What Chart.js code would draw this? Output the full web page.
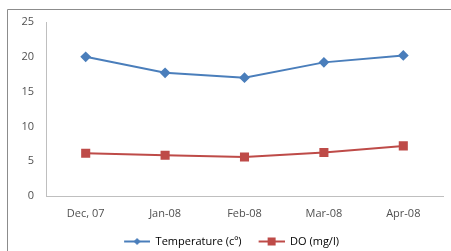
<!DOCTYPE html>
<html>
<head>
<meta charset="utf-8">
<script src="https://cdn.jsdelivr.net/npm/chart.js@4/dist/chart.umd.min.js"></script>
<style>
	html, body { margin: 0; padding: 0; background: #fff; }
	#wrap { width: 451px; height: 251px; }
</style>
</head>
<body>
<div id="wrap"><canvas id="myChart" width="451" height="251"></canvas></div>
<script>
// datos
const meses = ['Dec, 07', 'Jan-08', 'Feb-08', 'Mar-08', 'Apr-08'];
const temperatura = [20.0, 17.7, 17.0, 19.2, 20.2];
const oxigeno = [6.15, 5.85, 5.6, 6.25, 7.2];
const ticksY = [0, 5, 10, 15, 20, 25];

const azul = '#4a7ebb';
const rojo = '#be4b48';
const fuente = "'Open Sans', 'Liberation Sans', sans-serif";

// icono de leyenda: linea con marcador (con hueco a la izquierda)
function iconoLeyenda(color, forma) {
	let c = document.createElement('canvas');
	c.width = 38;
	c.height = 11;
	let g = c.getContext('2d');
	let x0 = 12;
	let xm = x0 + 13;
	g.strokeStyle = color;
	g.lineWidth = 2;
	g.beginPath();
	g.moveTo(x0, 5.5);
	g.lineTo(38, 5.5);
	g.stroke();
	g.fillStyle = color;
	if (forma === 'rombo') {
		g.beginPath();
		g.moveTo(xm, 2);
		g.lineTo(xm + 3.5, 5.5);
		g.lineTo(xm, 9);
		g.lineTo(xm - 3.5, 5.5);
		g.closePath();
		g.fill();
	} else {
		g.fillRect(xm - 4, 1.5, 8, 8);
	}
	return c;
}

// marco exterior (sale del lienzo por la derecha y abajo)
const marco = {
	id: 'marco',
	beforeDraw(chart) {
		let ctx = chart.ctx;
		ctx.save();
		ctx.strokeStyle = '#8c8c8c';
		ctx.lineWidth = 1;
		ctx.beginPath();
		ctx.moveTo(7.5, 260);
		ctx.lineTo(7.5, 9.5);
		ctx.lineTo(460, 9.5);
		ctx.stroke();
		ctx.restore();
	}
};

const ctx = document.getElementById('myChart').getContext('2d');
const myChart = new Chart(ctx, {
	type: 'line',
	data: {
		labels: meses,
		datasets: [{
			label: 'Temperature (cº)',
			data: temperatura,
			borderColor: azul,
			backgroundColor: azul,
			borderWidth: 2,
			pointStyle: 'rectRot',
			pointRadius: 4,
			pointHoverRadius: 4,
			tension: 0
		}, {
			label: 'DO (mg/l)',
			data: oxigeno,
			borderColor: rojo,
			backgroundColor: rojo,
			borderWidth: 2,
			pointStyle: 'rect',
			pointRadius: 5,
			pointHoverRadius: 5,
			tension: 0
		}]
	},
	options: {
		responsive: false,
		animation: false,
		layout: { padding: { top: 22, right: 8, left: 8, bottom: -6 } },
		scales: {
			x: {
				offset: true,
				grid: { display: false, drawTicks: false },
				border: { display: true, color: '#bfbfbf', width: 1 },
				ticks: { color: '#505050', font: { family: fuente, size: 11 }, padding: 11, maxRotation: 0 },
				afterFit(scale) { scale.height = 35; }
			},
			y: {
				min: 0,
				max: 25,
				afterBuildTicks(scale) { scale.ticks = ticksY.map(v => ({ value: v })); },
				grid: { display: false, drawTicks: false },
				border: { display: true, color: '#bfbfbf', width: 1 },
				ticks: { color: '#505050', font: { family: fuente, size: 11 }, padding: 12 },
				afterFit(scale) { scale.width = 38; }
			}
		},
		plugins: {
			tooltip: { enabled: false },
			legend: {
				position: 'bottom',
				labels: {
					usePointStyle: true,
					pointStyleWidth: 38,
					padding: 5,
					color: '#404040',
					font: { family: fuente, size: 11 },
					generateLabels(chart) {
						let iconos = [iconoLeyenda(azul, 'rombo'), iconoLeyenda(rojo, 'cuadro')];
						return chart.data.datasets.map((ds, i) => ({
							text: ds.label,
							pointStyle: iconos[i],
							fillStyle: ds.borderColor,
							strokeStyle: ds.borderColor,
							lineWidth: 0,
							datasetIndex: i,
							hidden: false
						}));
					}
				}
			}
		}
	},
	plugins: [marco]
});
</script>
</body>
</html>
